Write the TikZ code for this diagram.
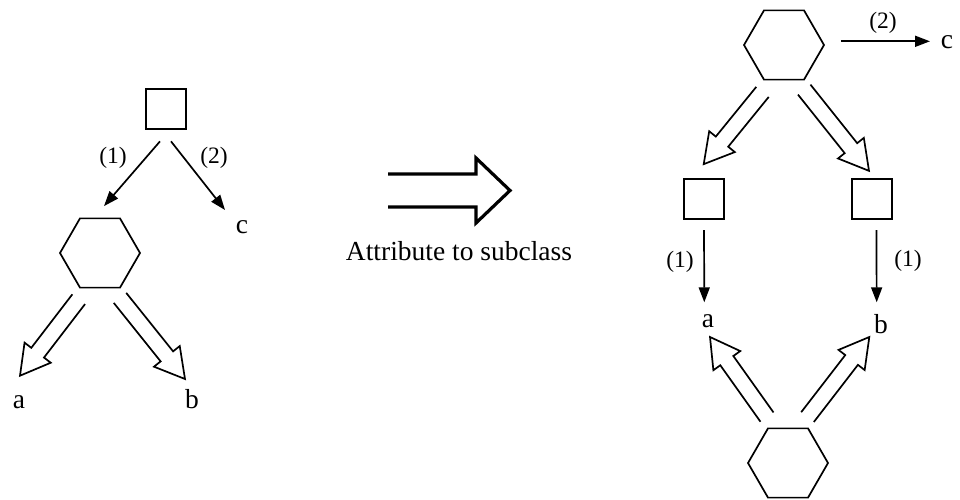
\documentclass[tikz,border=0pt]{standalone}
\usepackage{fontspec}
\setmainfont{Liberation Serif}
\usepackage{tikz}
\usetikzlibrary{arrows.meta,calc,shapes.geometric}
\tikzset{%
  class box/.style={
    draw,
    rectangle,
    minimum size=40pt
  },
  class hex/.style={
    draw,
    regular polygon,
    regular polygon sides=6,
    minimum size=80pt
  },
  letter/.style={anchor=base, font=\fontsize{27.5}{30}\selectfont},
  role/.style={anchor=base, font=\fontsize{23.5}{26}\selectfont},
  ref/.style={-{Triangle[length=15pt,width=11pt]}},
  hollow/.style args={#1/#2/#3}{
    to path={
      ($(\tikztotarget)!#3!(\tikztostart)$) coordinate (hb)
      ($(\tikztostart)!#1!90:(\tikztotarget)$)
      -- ($(hb)!#1!90:(\tikztotarget)$)
      -- ($(hb)!#2!90:(\tikztotarget)$)
      -- (\tikztotarget)
      -- ($(hb)!#2!-90:(\tikztotarget)$)
      -- ($(hb)!#1!-90:(\tikztotarget)$)
      -- ($(\tikztostart)!#1!-90:(\tikztotarget)$)
    }
  },
  subclass/.style={hollow=8pt/16.5pt/29pt},
  big/.style={hollow=16.5pt/32.5pt/34pt, line width=3.2pt},
}

\begin{document}
\begin{tikzpicture}[x=1pt, y=-1pt, line width=1.7pt, every node/.style={inner sep=0pt}]
\useasboundingbox (0,0) rectangle (960,500);

% before
\node[class box] (box1) at (166,109) {};
\node[class hex] (hex1) at (100,253) {};
\node[letter] (c1) at (242,233) {c};
\node[letter] (a1) at (19,408) {a};
\node[letter] (b1) at (192,408) {b};
\node[role] (r1) at (113,163) {(1)};
\node[role] (r2) at (214,163) {(2)};

\draw[ref] ([shift={(-6,11.5)}]box1.south) -- ([shift={(4,-11.4)}]hex1.north);
\draw[ref] ([shift={(5,11.5)}]box1.south) -- ([shift={(-17,-23)}]c1.base);
\draw[subclass] ([shift={(-21.3,10.7)}]hex1.south) to ([shift={(1,-32.3)}]a1.base);
\draw[subclass] ([shift={(20,9.4)}]hex1.south) to ([shift={(-7,-29)}]b1.base);

% transformation
\node[letter] (note) at (459,260) {Attribute to subclass};
\draw[big] (388,190.5) to (510,190.5);

% after
\node[class hex] (hex2) at (784,45) {};
\node[class box] (box2) at (704,199) {};
\node[class box] (box3) at (872,199) {};
\node[class hex] (hex3) at (788,463) {};
\node[letter] (c2) at (947,49) {c};
\node[letter] (a2) at (708,327) {a};
\node[letter] (b2) at (881,333) {b};
\node[role] (r3) at (883,29) {(2)};
\node[role] (r4) at (680,267.5) {(1)};
\node[role] (r5) at (908,266) {(1)};

\draw[ref] ([shift={(16,-3.7)}]hex2.east) -- ([shift={(-17,-7.7)}]c2.base);
\draw[subclass] ([shift={(-21.5,11.4)}]hex2.south) to ([shift={(-0.3,-14)}]box2.north);
\draw[subclass] ([shift={(20.2,9.1)}]hex2.south) to ([shift={(-3,-7.3)}]box3.north);
\draw[ref] ([shift={(0,10.3)}]box2.south) -- ([shift={(-3.7,-24.7)}]a2.base);
\draw[ref] ([shift={(4.4,10.3)}]box3.south) -- ([shift={(-4.3,-30.7)}]b2.base);
\draw[subclass] ([shift={(-21,-10.4)}]hex3.north) to ([shift={(2,10)}]a2.base);
\draw[subclass] ([shift={(19.5,-10.4)}]hex3.north) to ([shift={(-11.7,4)}]b2.base);
\end{tikzpicture}
\end{document}
